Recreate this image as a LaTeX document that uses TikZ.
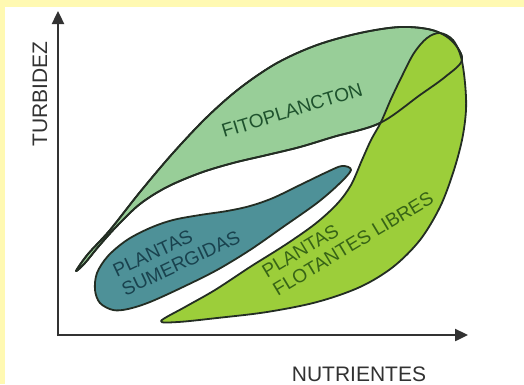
\documentclass[tikz,border=0pt]{standalone}
\usepackage{fontspec}
\setmainfont{Liberation Sans}
\usetikzlibrary{arrows.meta}
\definecolor{frameyel}{RGB}{255,249,178}
\definecolor{fitofill}{RGB}{152,206,152}
\definecolor{sumfill}{RGB}{78,145,152}
\definecolor{flotfill}{RGB}{156,206,58}
\definecolor{outl}{RGB}{35,45,35}
\definecolor{axiscol}{RGB}{50,50,50}
\definecolor{fitotxt}{RGB}{30,82,45}
\definecolor{sumtxt}{RGB}{25,66,78}
\definecolor{flottxt}{RGB}{55,100,22}
\tikzset{
  region/.style={draw=outl, line width=1.8pt, line join=round},
  axisline/.style={draw=axiscol, line width=2.4pt, -{Triangle[length=13pt,width=12pt]}},
  lbl/.style={font=\fontsize{19}{21}\selectfont, inner sep=0pt, align=left},
  axlbl/.style={font=\fontsize{21}{23}\selectfont, text=axiscol, inner sep=0pt},
  fitoshape/.style={insert path={plot[smooth cycle, tension=0.55] coordinates {
 (76,271) (88,254) (110,230) (140,192) (173,153) (207,117) (240,88) (277,63)
 (317,45) (360,33) (400,27) (432,30) (452,41) (462,60)
 (445,77) (420,95) (380,123) (333,137) (300,147) (267,155) (233,163)
 (200,173) (167,187) (140,204) (117,226) (99,246) (85,263)}}},
}
\begin{document}
\begin{tikzpicture}[x=1pt,y=-1pt]
\useasboundingbox (0,0) rectangle (524,384);
\fill[frameyel] (0,0) rectangle (524,384);
\fill[white] (5,7) rectangle (524,384);

% Fitoplancton
\path[region, fill=fitofill, fitoshape];

% Plantas flotantes libres
\path[region, fill=flotfill] plot[smooth cycle, tension=0.55] coordinates {
 (161,321) (185,307) (215,290) (250,267) (285,245) (315,224) (337,204)
 (351,185) (362,160) (371,140) (381,122) (391,99) (402,76) (414,53) (427,38)
 (440,33) (453,40) (461,57) (465,83) (466,110) (462,140) (453,173) (440,207)
 (420,240) (393,267) (360,287) (317,302) (267,312) (217,318) (178,322)};

% redraw fitoplancton outline over the overlap
\path[region, fitoshape];

% Plantas sumergidas
\path[region, fill=sumfill] plot[smooth cycle, tension=0.55] coordinates {
 (351,170) (342,166) (327,172) (300,185) (273,198) (250,206) (227,211)
 (200,215) (173,220) (150,228) (127,240) (108,256) (97,273) (95,290)
 (100,303) (113,310) (128,309) (150,302) (183,287) (217,270) (250,250)
 (283,227) (317,203) (339,184)};

% labels
\node[lbl, text=fitotxt, rotate=17, anchor=base west] (fito) at (224,138) {FITOPLANCTON};
\node[lbl, text=sumtxt, rotate=25, anchor=north west] (sum) at (111,265) {PLANTAS\\SUMERGIDAS};
\node[lbl, text=flottxt, rotate=31, anchor=north west] (flo) at (260,267) {PLANTAS\\FLOTANTES LIBRES};

% axes
\coordinate (O) at (58,335);
\coordinate (Ytip) at (58,11);
\coordinate (Xtip) at (468,335);
\draw[axisline] ([yshift=-1.2pt]O) -- (Ytip);
\draw[axisline] ([xshift=-1.2pt]O) -- (Xtip);

\node[axlbl, rotate=90] (turb) at (40,94) {TURBIDEZ};
\node[axlbl, anchor=base] (nutr) at (359,381) {NUTRIENTES};
\end{tikzpicture}
\end{document}
